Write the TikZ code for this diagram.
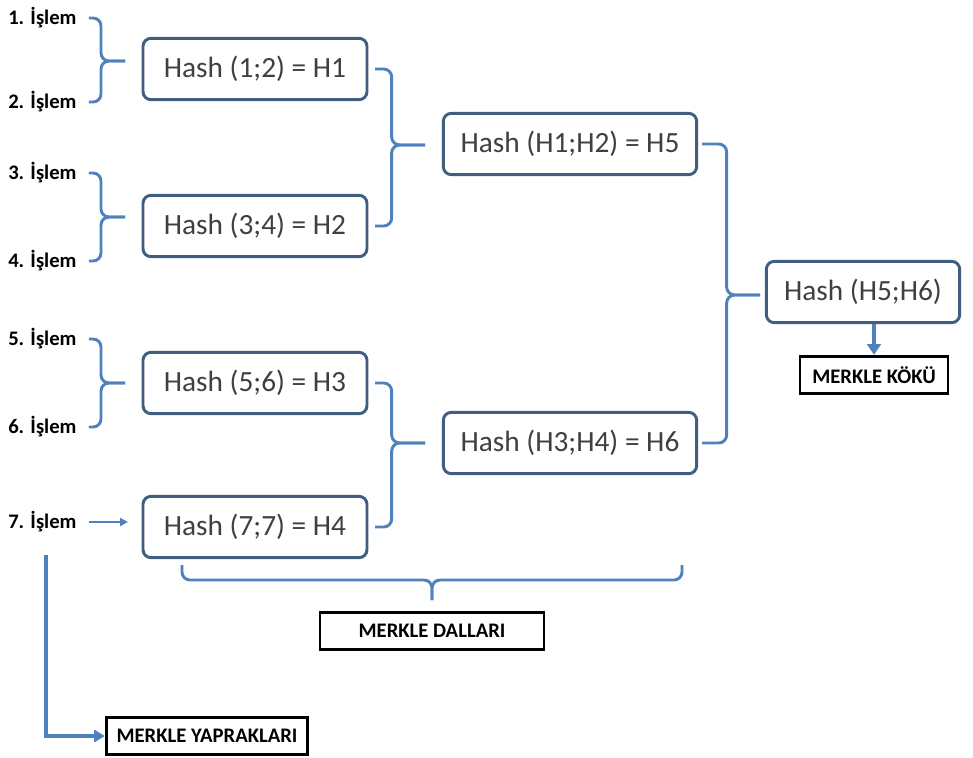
\documentclass[tikz,border=0pt]{standalone}
\usepackage{fontspec}
\setmainfont{Carlito}
\usetikzlibrary{arrows.meta}
\definecolor{linieblau}{HTML}{4F81BD}
\definecolor{kastenrand}{HTML}{3F5E80}
\definecolor{textgrau}{HTML}{404040}
\tikzset{
  hashbox/.style={draw=kastenrand,line width=2.2pt,rounded corners=6pt,fill=white,text=textgrau,
    font=\fontsize{22}{26}\selectfont,minimum height=46pt,inner sep=0pt},
  islem/.style={anchor=west,font=\fontsize{15.5}{18}\bfseries\selectfont,inner sep=0pt},
  etiket/.style={draw=black,line width=2.2pt,font=\fontsize{15.5}{18}\bfseries\selectfont,inner sep=0pt,minimum height=28pt},
  brace/.style={draw=linieblau,line width=2.2pt,rounded corners=6pt},
}
\begin{document}
\begin{tikzpicture}[x=0.75pt,y=-0.75pt]
	\useasboundingbox (0,0) rectangle (973,757);
	% islemler
	\node[islem](l1) at (8,18){1. İşlem};
	\node[islem](l2) at (8,102){2. İşlem};
	\node[islem](l3) at (8,173){3. İşlem};
	\node[islem](l4) at (8,261){4. İşlem};
	\node[islem](l5) at (8,339){5. İşlem};
	\node[islem](l6) at (8,427){6. İşlem};
	\node[islem](l7) at (8,522){7. İşlem};
	% hash kutulari
	\node[hashbox,minimum width=168pt](h1) at (255,69){Hash (1;2) = H1};
	\node[hashbox,minimum width=168pt](h2) at (255,226){Hash (3;4) = H2};
	\node[hashbox,minimum width=168pt](h3) at (255,383){Hash (5;6) = H3};
	\node[hashbox,minimum width=168pt](h4) at (255,527){Hash (7;7) = H4};
	\node[hashbox,minimum width=190pt](h5) at (570,144){Hash (H1;H2) = H5};
	\node[hashbox,minimum width=190pt](h6) at (570,443){Hash (H3;H4) = H6};
	\node[hashbox,minimum width=145pt](root) at (863,292){Hash (H5;H6)};
	% etiketler
	\node[etiket,minimum width=111pt](kok) at (874,375){MERKLE KÖKÜ};
	\node[etiket,minimum width=168pt](dal) at (432,631){MERKLE DALLARI};
	\node[etiket,minimum width=151pt](yaprak) at (207,736){MERKLE YAPRAKLARI};
	% kume uclari
	\coordinate (b1) at (125,61);
	\coordinate (b2) at (125,217);
	\coordinate (b3) at (125,383);
	\coordinate (b5) at (425,145);
	\coordinate (b6) at (425,443);
	\coordinate (b7) at (760,295);
	\coordinate (d1) at (182,565);
	\coordinate (d2) at (682,565);
	\coordinate (dm) at (432,580);
	\coordinate (dt) at (432,600);
	\coordinate (ys) at (46,555);
	\coordinate (o7) at (128,522);
	% parantezler
	\draw[brace] ([xshift=9]l1.east) -| ([xshift=-18]b1) -- (b1);
	\draw[brace] ([xshift=9]l2.east) -| ([xshift=-18]b1) -- (b1);
	\draw[brace] ([xshift=9]l3.east) -| ([xshift=-18]b2) -- (b2);
	\draw[brace] ([xshift=9]l4.east) -| ([xshift=-18]b2) -- (b2);
	\draw[brace] ([xshift=9]l5.east) -| ([xshift=-18]b3) -- (b3);
	\draw[brace] ([xshift=9]l6.east) -| ([xshift=-18]b3) -- (b3);
	\draw[brace] ([xshift=5]h1.east) -| ([xshift=-25]b5) -- (b5);
	\draw[brace] ([xshift=5]h2.east) -| ([xshift=-25]b5) -- (b5);
	\draw[brace] ([xshift=5]h3.east) -| ([xshift=-25]b6) -- (b6);
	\draw[brace] ([xshift=5]h4.east) -| ([xshift=-25]b6) -- (b6);
	\draw[brace] ([xshift=3]h5.east) -| ([xshift=-25]b7) -- (b7);
	\draw[brace] ([xshift=3]h6.east) -| ([xshift=-25]b7) -- (b7);
	\draw[brace] (d1) |- (dm) -- (dt);
	\draw[brace] (d2) |- (dm) -- (dt);
	% oklar
	\draw[linieblau,line width=2pt,-{Triangle[length=6pt,width=6pt]}] ([xshift=9]l7.east) -- (o7);
	\draw[linieblau,line width=3.5pt,-{Triangle[length=8pt,width=10pt]}] (kok.north |- root.south) -- (kok.north);
	\draw[linieblau,line width=3pt,-{Triangle[length=8pt,width=9pt]}] (ys) |- (yaprak.west);
\end{tikzpicture}
\end{document}
